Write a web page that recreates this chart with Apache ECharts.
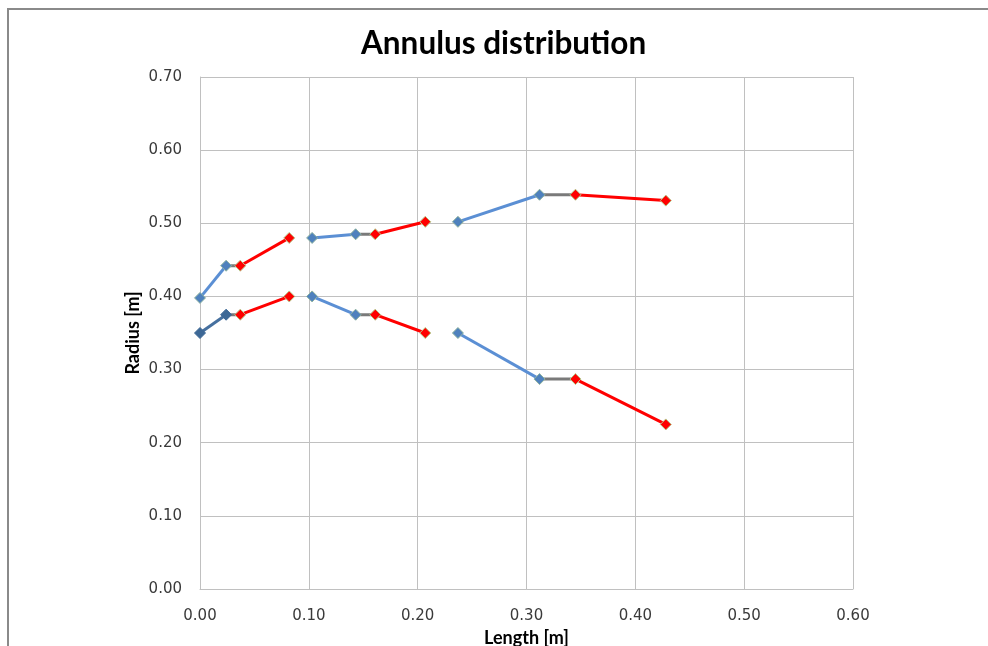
<!DOCTYPE html>
<html>
<head>
<meta charset="utf-8">
<script src="https://cdn.jsdelivr.net/npm/echarts@6/dist/echarts.min.js"></script>
<style>
  html, body { margin: 0; padding: 0; background: #ffffff; }
  #chart { width: 988px; height: 646px; }
</style>
</head>
<body>
<div id="chart"></div>
<script>
// Axial stations along the annulus [m]
var lengths = [0.000, 0.024, 0.037, 0.082, 0.103, 0.143, 0.161, 0.207, 0.237, 0.312, 0.345, 0.428];
// Outer (casing) radius at each station [m]
var outerRadius = [0.398, 0.442, 0.442, 0.480, 0.480, 0.485, 0.485, 0.502, 0.502, 0.539, 0.539, 0.531];
// Inner (hub) radius at each station [m]
var innerRadius = [0.350, 0.375, 0.375, 0.400, 0.400, 0.375, 0.375, 0.350, 0.350, 0.287, 0.287, 0.225];
// Segment kinds between consecutive stations: stator (blue), gap (gray), rotor (red)
var segmentKinds = ['blue', 'gray', 'red', null, 'blue', 'gray', 'red', null, 'blue', 'gray', 'red'];

var xTicks = ['0.00', '0.10', '0.20', '0.30', '0.40', '0.50', '0.60'];
var yTicks = ['0.00', '0.10', '0.20', '0.30', '0.40', '0.50', '0.60', '0.70'];

var styles = {
  blue: { line: '#5b8fd4', fill: '#4f81bd', border: '#8fb3a0' },
  darkBlue: { line: '#46709f', fill: '#3d6896', border: '#3d6896' },
  gray: { line: '#7a7a7a' },
  red: { line: '#ff0000', fill: '#ff0000', border: '#b6c98a' }
};

var series = [];
function addSegments(radii, name) {
  for (var i = 0; i < segmentKinds.length; i++) {
    var kind = segmentKinds[i];
    if (!kind) continue;
    var st = styles[kind];
    if (kind === 'blue' && name === 'inner' && i === 0) st = styles.darkBlue;
    var isGray = kind === 'gray';
    series.push({
      type: 'line',
      name: name,
      data: [[lengths[i], radii[i]], [lengths[i + 1], radii[i + 1]]],
      symbol: 'diamond',
      symbolSize: 11,
      showSymbol: !isGray,
      z: isGray ? 1 : 2,
      lineStyle: { color: st.line, width: 3 },
      itemStyle: isGray ? { color: st.line } : { color: st.fill, borderColor: st.border, borderWidth: 1 },
      emphasis: { disabled: true },
      animation: false
    });
  }
}
addSegments(outerRadius, 'outer');
addSegments(innerRadius, 'inner');

var chart = echarts.init(document.getElementById('chart'), null, { renderer: 'canvas' });
chart.setOption({
  backgroundColor: '#ffffff',
  animation: false,
  title: {
    text: 'Annulus distribution',
    left: 356,
    top: 23,
    textStyle: { fontFamily: 'Lato', fontWeight: 'bold', fontSize: 31.5, color: '#000000' }
  },
  graphic: [{
    type: 'rect',
    shape: { x: 8, y: 9, width: 1000, height: 700 },
    style: { fill: 'none', stroke: '#8a8a8a', lineWidth: 2 },
    silent: true
  }],
  grid: { left: 200, right: 135, top: 77, bottom: 57, outerBoundsMode: 'none', containLabel: false },
  xAxis: {
    type: 'value',
    min: 0, max: 0.6, interval: 0.1,
    name: 'Length [m]',
    nameLocation: 'middle',
    nameGap: 40,
    nameTextStyle: { fontFamily: 'Lato', fontWeight: 'bold', fontSize: 18, color: '#000000' },
    axisLine: { show: true, lineStyle: { color: '#c0c0c0', width: 1 } },
    axisTick: { show: false },
    splitLine: { show: true, lineStyle: { color: '#c0c0c0', width: 1 } },
    axisLabel: {
      margin: 20,
      fontFamily: 'DejaVu Sans', fontSize: 15, color: '#3a3a3a',
      formatter: function (v) { return xTicks[Math.round(v * 10)]; }
    }
  },
  yAxis: {
    type: 'value',
    min: 0, max: 0.7, interval: 0.1,
    name: 'Radius [m]',
    nameLocation: 'middle',
    nameGap: 58,
    nameRotate: 90,
    nameMoveOverlap: false,
    nameTextStyle: { fontFamily: 'Lato', fontWeight: 'bold', fontSize: 18, color: '#000000' },
    axisLine: { show: true, lineStyle: { color: '#c0c0c0', width: 1 } },
    axisTick: { show: false },
    splitLine: { show: true, lineStyle: { color: '#c0c0c0', width: 1 } },
    axisLabel: {
      margin: 18,
      fontFamily: 'DejaVu Sans', fontSize: 15, color: '#3a3a3a',
      formatter: function (v) { return yTicks[Math.round(v * 10)]; }
    }
  },
  series: series
});
</script>
</body>
</html>
